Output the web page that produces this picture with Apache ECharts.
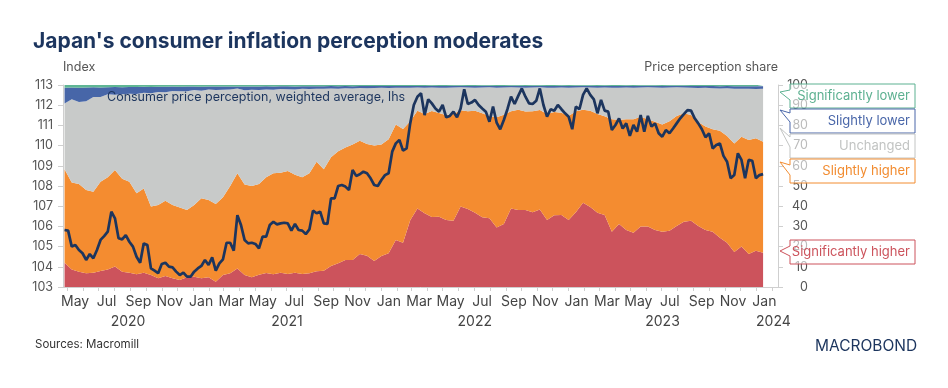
<!DOCTYPE html>
<html><head><meta charset="utf-8">
<script src="https://cdn.jsdelivr.net/npm/echarts@6/dist/echarts.min.js"></script>
<style>html,body{margin:0;padding:0;background:#fff}#c{width:948px;height:388px}</style>
</head><body><div id="c"></div>
<script>
// ---------- DATA ----------
const monthNames = ['Jan','Feb','Mar','Apr','May','Jun','Jul','Aug','Sep','Oct','Nov','Dec'];
const firstWeek = [2020, 3, 26];          // weekly survey, first week (Apr 26 2020)
const yearLabels = ['2020','2021','2022','2023','2024'];
const axisStart = '2020-04-23';
const axisEnd = '2024-02-12';

// Consumer price perception, weighted average (index, lhs) - weekly
const priceIndex = [
105.82,105.79,105.00,105.08,104.83,104.67,104.34,104.63,104.42,104.83,105.33,105.52,105.74,106.73,106.40,105.41,105.36,105.57,105.24,105.00,
104.50,104.20,105.16,105.08,103.92,103.81,103.68,104.14,104.20,104.01,103.97,103.76,103.59,103.71,103.51,103.51,103.76,103.92,104.04,104.34,
104.09,104.47,103.81,104.17,104.37,105.19,105.19,104.80,106.56,106.07,
105.33,105.16,105.19,105.13,104.91,105.49,105.49,106.07,106.23,106.10,106.15,106.18,106.15,105.79,106.12,105.82,105.79,105.62,105.85,106.78,
106.65,106.73,106.15,106.12,107.39,107.39,108.00,108.05,107.97,107.80,108.79,108.50,108.58,108.71,108.63,108.38,108.05,108.00,108.30,108.54,
108.63,109.70,110.11,110.28,109.75,109.86,
111.10,112.01,112.42,112.59,111.51,112.29,112.09,111.84,111.68,112.01,111.40,111.47,111.68,111.40,111.84,112.79,112.06,112.13,112.26,112.01,
111.84,111.68,111.18,111.93,111.14,110.81,111.27,111.80,112.42,112.06,112.46,112.83,112.42,112.09,112.06,112.22,112.83,112.01,111.43,111.80,
111.73,112.01,111.80,111.60,111.43,110.81,111.93,111.80,112.51,112.83,112.51,
112.29,111.60,112.26,111.73,111.68,110.77,111.02,111.35,110.85,111.10,110.48,111.02,110.69,111.51,110.69,111.47,110.94,111.10,110.61,110.44,
110.77,110.61,110.85,111.10,111.35,111.56,111.76,111.73,111.35,111.10,110.81,110.41,110.61,109.86,110.03,110.11,109.49,109.20,108.38,108.54,
109.62,109.29,108.38,109.29,109.25,108.38,108.54,108.59
];

// Price perception shares (%, rhs) - every second week
const sigHigher = [
12.0,8.7,7.6,6.8,7.1,7.9,8.7,10.1,7.6,7.1,6.3,7.1,5.9,4.3,5.4,4.3,3.5,4.8,5.1,4.3,4.8,2.6,5.9,6.8,9.1,
5.9,4.8,6.1,6.9,6.3,7.1,6.4,7.1,6.4,6.8,7.8,8.1,10.4,11.7,13.4,13.4,16.3,15.5,12.9,15.3,16.7,23.3,21.9,33.0,
38.9,36.5,34.7,34.8,33.2,32.8,39.8,38.6,36.8,34.5,34.0,29.5,31.2,38.9,38.1,38.1,37.0,38.4,33.2,35.5,35.6,33.2,37.0,41.7,39.6,
36.8,35.6,27.4,31.2,28.2,26.9,29.9,29.9,28.2,27.4,27.9,30.2,32.3,32.8,30.2,28.2,27.4,24.4,21.9,17.3,20.0,16.3,18.0,17.0
];
const slHigher = [
46.3,43.0,43.4,41.2,40.1,44.2,45.6,47.8,46.0,45.0,40.1,41.7,33.9,36.3,37.3,36.3,35.9,33.3,35.5,39.6,38.3,38.5,38.5,43.2,47.2,
44.9,45.2,44.9,47.4,50.0,49.5,51.0,48.5,47.9,49.5,54.2,50.2,53.8,55.5,55.7,57.1,56.1,55.3,57.2,55.3,56.4,57.2,56.3,49.0,
48.4,49.1,52.4,51.3,51.8,52.8,47.7,48.4,50.5,51.5,50.7,54.5,54.1,48.1,49.7,48.8,50.0,49.2,52.4,51.1,50.7,51.5,50.0,46.1,47.7,
48.8,48.9,55.6,51.6,54.8,56.1,54.4,53.1,53.6,53.0,54.1,54.5,53.7,52.3,51.5,51.2,50.7,53.0,52.9,53.8,54.4,56.5,55.6,54.9
];
const unchanged = [
32.6,41.2,40.6,43.9,46.9,42.0,41.1,37.3,41.8,43.6,49.1,47.4,56.1,55.9,53.7,56.4,57.5,58.8,56.9,53.3,54.7,56.4,53.3,47.8,42.0,
46.6,47.6,46.5,43.5,41.4,41.4,40.5,42.2,43.8,41.7,36.2,39.8,34.1,31.0,29.3,27.8,26.1,27.6,28.4,28.0,25.4,18.2,20.4,16.7,
11.5,13.1,11.7,12.5,13.7,13.2,11.4,11.8,11.4,12.8,14.2,14.7,13.5,11.9,11.0,11.8,11.8,11.3,13.1,12.0,12.5,14.0,11.8,11.1,11.5,
13.1,14.3,15.6,15.9,15.8,15.7,14.5,15.9,17.0,18.3,16.8,14.2,12.8,13.5,16.8,19.2,20.3,20.9,23.6,27.1,23.7,25.4,24.4,26.2
];
const slLower = [
7.8,5.9,7.1,6.9,4.8,4.7,3.5,3.8,3.5,3.3,3.5,2.9,3.1,2.6,2.7,2.2,2.2,2.3,1.7,1.9,1.4,1.7,1.6,1.4,1.0,
1.9,1.7,1.8,1.6,1.6,1.4,1.5,1.5,1.3,1.4,1.2,1.3,1.2,1.2,1.1,1.1,1.0,1.1,1.0,0.9,1.0,0.8,0.9,0.8,
0.7,0.8,0.8,0.9,0.8,0.8,0.7,0.7,0.8,0.8,0.7,0.8,0.7,0.7,0.8,0.8,0.8,0.7,0.8,0.9,0.8,0.8,0.8,0.7,0.8,
0.8,0.8,0.9,0.8,0.8,0.8,0.8,0.7,0.8,0.8,0.8,0.7,0.8,0.9,1.0,0.9,1.1,1.1,1.1,1.2,1.3,1.2,1.4,1.3
];
const sigLower = [
1.3,1.2,1.3,1.2,1.1,1.2,1.1,1.0,1.1,1.0,1.0,0.9,1.0,0.9,0.9,0.8,0.9,0.8,0.8,0.9,0.8,0.8,0.7,0.8,0.7,
0.7,0.7,0.7,0.6,0.7,0.6,0.6,0.7,0.6,0.6,0.6,0.6,0.5,0.6,0.5,0.6,0.5,0.5,0.5,0.5,0.5,0.5,0.5,0.5,
0.5,0.5,0.4,0.5,0.5,0.4,0.4,0.5,0.5,0.4,0.4,0.5,0.5,0.4,0.4,0.5,0.4,0.4,0.5,0.5,0.4,0.5,0.4,0.4,0.4,
0.5,0.4,0.5,0.5,0.4,0.5,0.4,0.4,0.4,0.5,0.4,0.4,0.4,0.5,0.5,0.5,0.5,0.6,0.5,0.6,0.6,0.6,0.6,0.6
];
const shareNames = ['Significantly higher','Slightly higher','Unchanged','Slightly lower','Significantly lower'];
const shareColors = ['#cc535c','#f48c30','#c8cac9','#4766a8','#5fb694'];
const labelColors = ['#cc535c','#f28c30','#c2c4c3','#4a67a9','#5db191'];
const navy = '#1c355e';

// ---------- BUILD ----------
const weekDates = priceIndex.map((_, i) => +new Date(firstWeek[0], firstWeek[1], firstWeek[2] + 7 * i));
const shareDates = weekDates.filter((_, i) => i % 2 === 0);
const shareSeries = [sigHigher, slHigher, unchanged, slLower, sigLower];

const chart = echarts.init(document.getElementById('c'), null, {renderer: 'canvas'});
const FONT = 'Inter, "Noto Sans", sans-serif';

const series = shareSeries.map((arr, j) => ({
  name: shareNames[j], type: 'line', yAxisIndex: 1, stack: 'share',
  data: arr.map((v, i) => [shareDates[i], v]),
  symbol: 'none', lineStyle: {width: 0, opacity: 0},
  areaStyle: {color: shareColors[j], opacity: 1},
  itemStyle: {color: shareColors[j]}, z: 1, silent: true
}));
series.push({
  name: 'Consumer price perception, weighted average, lhs', type: 'line', yAxisIndex: 0,
  data: priceIndex.map((v, i) => [weekDates[i], v]),
  symbol: 'none', lineStyle: {color: navy, width: 2.7}, z: 5
});

const option = {
  animation: false,
  textStyle: {fontFamily: FONT},
  grid: {left: 63, right: 170, top: 85, bottom: 101},
  xAxis: {
    type: 'time', min: axisStart, max: axisEnd,
    splitNumber: 46, minInterval: 28 * 864e5, maxInterval: 31 * 864e5,
    axisLine: {lineStyle: {color: '#cfcfcf'}},
    axisTick: {length: 4, lineStyle: {color: '#cfcfcf'}},
    splitLine: {show: false},
    axisLabel: {
      color: '#444', fontSize: 14, fontFamily: FONT, margin: 8,
      padding: [0, 0, 0, 16], hideOverlap: false,
      formatter: function (val) {
        const d = new Date(val);
        if (d.getDate() !== 1 || d.getMonth() % 2 !== 0) return '';
        return monthNames[d.getMonth()];
      }
    }
  },
  yAxis: [{
    type: 'value', min: 103, max: 113, interval: 1, position: 'left',
    name: 'Index', nameLocation: 'end', nameGap: 11,
    nameTextStyle: {color: '#555', fontSize: 12.5, align: 'left', fontFamily: FONT},
    axisLine: {show: true, lineStyle: {color: '#cfcfcf'}},
    axisTick: {show: true, length: 5, lineStyle: {color: '#cfcfcf'}},
    splitLine: {show: false},
    axisLabel: {color: '#555', fontSize: 12.5, margin: 10, fontFamily: FONT}
  }, {
    type: 'value', min: 0, max: 100, interval: 10, position: 'right',
    name: 'Price perception share', nameLocation: 'end', nameGap: 11,
    nameTextStyle: {color: '#555', fontSize: 12.5, align: 'right', fontFamily: FONT},
    axisLine: {show: true, lineStyle: {color: '#cfcfcf'}},
    axisTick: {show: true, length: 5, lineStyle: {color: '#cfcfcf'}},
    splitLine: {show: false},
    axisLabel: {color: '#555', fontSize: 12.5, margin: 30, align: 'right', fontFamily: FONT}
  }],
  series: series
};
chart.setOption(option);

// ---------- TEXT / ANNOTATIONS ----------
const g = [];
g.push({type: 'text', left: 33, top: 31, style: {text: "Japan's consumer inflation perception moderates", fill: navy, font: '700 21px ' + FONT}});
g.push({type: 'text', left: 107, top: 91, z: 10, style: {text: 'Consumer price perception, weighted average, lhs', fill: navy, font: '12.5px ' + FONT}});
g.push({type: 'text', left: 35, top: 339, style: {text: 'Sources: Macromill', fill: '#333', font: '11.5px ' + FONT}});
g.push({type: 'text', left: 815, top: 338, style: {text: 'MACROBOND', fill: navy, font: '400 15.5px ' + FONT}});

// year labels, centred on each year's visible span of the time axis
const xMinPx = chart.convertToPixel({xAxisIndex: 0}, +echarts.time.parse(axisStart));
const xMaxPx = chart.convertToPixel({xAxisIndex: 0}, +echarts.time.parse(axisEnd));
yearLabels.forEach(y => {
  const s = Math.max(xMinPx, chart.convertToPixel({xAxisIndex: 0}, +new Date(+y, 0, 1)));
  const e = Math.min(xMaxPx, chart.convertToPixel({xAxisIndex: 0}, +new Date(+y + 1, 0, 1)));
  const cx = Math.max((s + e) / 2, s + 17);
  g.push({type: 'text', x: cx, y: 322, style: {text: y, fill: '#444', font: '14px ' + FONT, align: 'center', verticalAlign: 'middle'}});
});

// callout labels at the right
const callouts = [
  {i: 4, top: 84, tip: 92, b1: 90, b2: 100},
  {i: 3, top: 109, tip: 110, b1: 113, b2: 122},
  {i: 2, top: 134, tip: 128, b1: 137, b2: 147},
  {i: 1, top: 159, tip: 162, b1: 165, b2: 175},
  {i: 0, top: 240, tip: 251, b1: 246, b2: 256}
];
callouts.forEach(c => {
  const L = 790, R = 915, T = c.top, B = c.top + 24;
  g.push({type: 'polygon', z: 20, shape: {points: [[780, c.tip], [L, c.b1], [L, T], [R, T], [R, B], [L, B], [L, c.b2]]},
    style: {fill: 'rgba(255,255,255,0.6)', stroke: labelColors[c.i], lineWidth: 1}});
  g.push({type: 'text', z: 21, x: 910, y: T + 12.5, style: {text: shareNames[c.i], fill: labelColors[c.i], font: '13px ' + FONT, align: 'right', verticalAlign: 'middle'}});
});
chart.setOption({graphic: g});
</script>
</body></html>
